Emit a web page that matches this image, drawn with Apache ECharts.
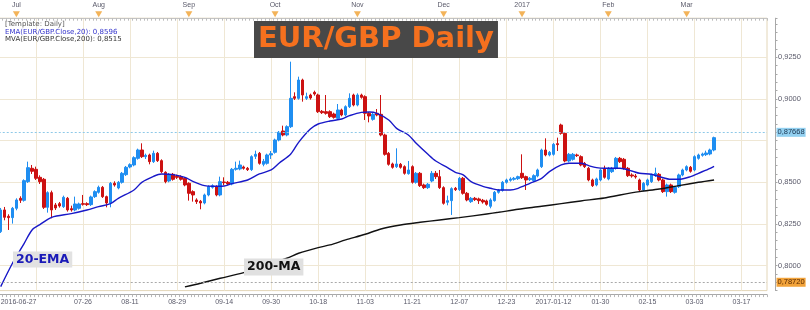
<!DOCTYPE html>
<html><head><meta charset="utf-8">
<script src="https://cdn.jsdelivr.net/npm/echarts@6/dist/echarts.min.js"></script>
<style>html,body{margin:0;padding:0;background:#fff}#c{width:810px;height:310px}</style>
</head><body><div id="c"></div>
<script>
// ---- data (EUR/GBP daily, 2016-06-27 .. 2017-03) ----
const opens = [.8204,.8334,.8296,.8288,.8344,.8404,.8392,.8504,.8584,.8578,
.8530,.8518,.8350,.8438,.8364,.8372,.8354,.8404,.8342,.8334,
.8344,.8372,.8372,.8366,.8414,.8440,.8470,.8414,.8376,.8494,
.8466,.8500,.8546,.8592,.8604,.8644,.8694,.8654,.8664,.8624,
.8674,.8630,.8560,.8508,.8548,.8536,.8534,.8524,.8494,.8444,
.8394,.8386,.8376,.8424,.8470,.8474,.8424,.8502,.8500,.8490,
.8578,.8580,.8592,.8584,.8576,.8656,.8674,.8608,.8614,.8664,
.8680,.8754,.8808,.8784,.8834,.9014,.9004,.9114,.9004,.9024,
.9040,.9024,.8926,.8924,.8924,.8910,.8884,.8934,.8904,.8954,
.9024,.8964,.9024,.9014,.8914,.8878,.8914,.8908,.8784,.8674,
.8610,.8594,.8608,.8594,.8552,.8594,.8500,.8554,.8484,.8468,
.8508,.8554,.8534,.8468,.8380,.8390,.8464,.8456,.8524,.8434,
.8384,.8404,.8400,.8392,.8388,.8356,.8390,.8440,.8452,.8500,
.8512,.8518,.8522,.8554,.8534,.8516,.8510,.8538,.8594,.8694,
.8664,.8668,.8732,.8844,.8794,.8628,.8638,.8664,.8654,.8614,
.8584,.8514,.8484,.8514,.8580,.8520,.8564,.8584,.8644,.8638,
.8584,.8544,.8538,.8514,.8454,.8484,.8504,.8540,.8548,.8514,
.8444,.8484,.8440,.8474,.8544,.8574,.8590,.8574,.8644,.8662,
.8666,.8670,.8694];
const closes = [.8334,.8290,.8288,.8344,.8394,.8392,.8510,.8588,.8566,.8524,
.8504,.8350,.8438,.8334,.8346,.8358,.8410,.8334,.8334,.8370,
.8370,.8368,.8366,.8412,.8444,.8470,.8414,.8376,.8494,.8484,
.8500,.8554,.8590,.8606,.8648,.8694,.8654,.8662,.8624,.8674,
.8630,.8564,.8504,.8548,.8518,.8530,.8518,.8484,.8434,.8424,
.8384,.8376,.8424,.8474,.8480,.8424,.8504,.8498,.8490,.8578,
.8584,.8604,.8584,.8576,.8654,.8668,.8614,.8626,.8664,.8672,
.8754,.8800,.8784,.8834,.9004,.9004,.9114,.9024,.9014,.9006,
.9030,.8924,.8918,.8914,.8894,.8890,.8934,.8904,.8954,.9004,
.8964,.9024,.9010,.8914,.8898,.8908,.8904,.8784,.8668,.8608,
.8590,.8610,.8590,.8554,.8574,.8500,.8554,.8480,.8468,.8488,
.8554,.8534,.8468,.8374,.8390,.8462,.8456,.8524,.8434,.8394,
.8404,.8396,.8390,.8382,.8368,.8394,.8440,.8452,.8500,.8514,
.8520,.8524,.8534,.8528,.8514,.8524,.8540,.8574,.8694,.8664,
.8680,.8728,.8726,.8794,.8628,.8668,.8668,.8660,.8604,.8594,
.8514,.8480,.8520,.8574,.8530,.8584,.8584,.8644,.8624,.8584,
.8540,.8538,.8532,.8454,.8494,.8514,.8544,.8554,.8514,.8444,
.8484,.8444,.8470,.8544,.8574,.8594,.8566,.8654,.8664,.8670,
.8676,.8694,.8768];
const highs = [.8346,.8352,.8308,.8352,.8404,.8416,.8518,.8624,.8604,.8594,
.8542,.8526,.8446,.8450,.8376,.8382,.8420,.8412,.8360,.8414,
.8378,.8424,.8380,.8420,.8452,.8480,.8478,.8420,.8502,.8506,
.8508,.8562,.8598,.8614,.8656,.8702,.8734,.8672,.8672,.8690,
.8682,.8638,.8566,.8556,.8556,.8546,.8542,.8530,.8500,.8452,
.8404,.8394,.8432,.8482,.8488,.8482,.8534,.8530,.8508,.8586,
.8624,.8630,.8600,.8592,.8662,.8690,.8682,.8640,.8672,.8688,
.8762,.8808,.8840,.8842,.9224,.9040,.9134,.9122,.9038,.9032,
.9050,.9032,.8934,.9024,.8932,.8918,.8970,.8942,.8962,.9034,
.9032,.9034,.9032,.9022,.8922,.8916,.8940,.9024,.8792,.8682,
.8618,.8704,.8616,.8602,.8628,.8602,.8562,.8562,.8492,.8496,
.8568,.8568,.8574,.8476,.8420,.8470,.8472,.8532,.8532,.8442,
.8412,.8412,.8408,.8400,.8396,.8404,.8448,.8460,.8508,.8522,
.8530,.8532,.8540,.8668,.8540,.8532,.8548,.8582,.8702,.8764,
.8688,.8736,.8768,.8852,.8800,.8676,.8676,.8672,.8662,.8622,
.8592,.8522,.8528,.8582,.8600,.8592,.8592,.8652,.8652,.8646,
.8592,.8554,.8550,.8522,.8502,.8522,.8552,.8588,.8556,.8522,
.8492,.8492,.8478,.8552,.8582,.8602,.8598,.8662,.8672,.8678,
.8690,.8702,.8774];
const lows = [.8196,.8272,.8214,.8252,.8332,.8376,.8384,.8496,.8550,.8514,
.8490,.8340,.8318,.8284,.8334,.8348,.8346,.8324,.8324,.8326,
.8336,.8360,.8358,.8358,.8406,.8432,.8406,.8350,.8350,.8474,
.8458,.8492,.8538,.8584,.8596,.8636,.8646,.8640,.8608,.8616,
.8622,.8556,.8494,.8500,.8510,.8520,.8510,.8476,.8390,.8384,
.8370,.8338,.8368,.8416,.8462,.8416,.8416,.8482,.8482,.8482,
.8570,.8572,.8576,.8568,.8568,.8640,.8606,.8596,.8606,.8640,
.8672,.8746,.8776,.8776,.8826,.8994,.8996,.8984,.8994,.8996,
.9020,.8916,.8910,.8906,.8886,.8882,.8876,.8896,.8896,.8946,
.8956,.8956,.9002,.8874,.8860,.8870,.8896,.8776,.8660,.8600,
.8582,.8586,.8582,.8546,.8546,.8492,.8492,.8472,.8460,.8460,
.8500,.8520,.8460,.8366,.8362,.8304,.8448,.8448,.8426,.8386,
.8376,.8388,.8370,.8372,.8360,.8344,.8384,.8432,.8444,.8492,
.8504,.8510,.8514,.8520,.8454,.8508,.8502,.8530,.8586,.8656,
.8656,.8660,.8688,.8786,.8620,.8620,.8630,.8652,.8596,.8586,
.8506,.8472,.8476,.8506,.8522,.8512,.8556,.8576,.8616,.8576,
.8532,.8528,.8522,.8446,.8446,.8476,.8496,.8532,.8506,.8436,
.8414,.8436,.8432,.8466,.8536,.8566,.8558,.8566,.8636,.8654,
.8658,.8662,.8686];

// 20-EMA at these candle positions
const emaAt = [0,3,5,6,8,10,13,18,22,25,28,30,34,36,39,41,44,47,49,52,54,57,59,63,66,69,71,74,76,79,81,84,87,89,92,94,96,99,101,104,106,109,111,114,116,118,120,123,125,127,130,132,135,138,140,143,145,148,150,152,154,158,161,163,166,168,171,173,176,178,181,182];
const emaValues = [.7874,.8014,.8094,.8134,.8214,.8246,.8290,.8312,.8334,.8354,.8372,.8404,.8454,.8500,.8536,.8550,.8546,.8530,.8506,.8480,.8476,.8478,.8492,.8514,.8550,.8574,.8614,.8670,.8740,.8820,.8850,.8868,.8880,.8900,.8920,.8922,.8914,.8874,.8824,.8784,.8734,.8668,.8628,.8588,.8560,.8544,.8504,.8476,.8464,.8454,.8454,.8464,.8494,.8524,.8564,.8604,.8614,.8614,.8600,.8588,.8584,.8584,.8568,.8554,.8548,.8534,.8518,.8518,.8534,.8554,.8584,.8596];
// 200-MA
const maAt = [47,51,56,62,73,76,81,84,88,93,97,102,107,112,117,124,127,132,138,143,148,154,158,163,168,173,178,182];
const maValues = [.7872,.7894,.7924,.7958,.8044,.8074,.8108,.8124,.8154,.8188,.8220,.8244,.8260,.8274,.8288,.8310,.8320,.8338,.8356,.8372,.8388,.8406,.8424,.8444,.8460,.8480,.8500,.8514];

const xLabelIdx = [0,21,33,45,57,69,81,93,105,117,129,141,153,165,177,189];
const xLabelText = ['2016-06-27','07-26','08-11','08-29','09-14','09-30','10-18','11-03','11-21','12-07','12-23','2017-01-12','01-30','02-15','03-03','03-17'];
const gridlineIdx = [9,21,33,45,57,69,81,93,105,117,129,141,153,165,177,189];
const monthIdx = [4,25,48,70,91,113,133,155,175];
const monthText = ['Jul','Aug','Sep','Oct','Nov','Dec','2017','Feb','Mar'];
const yLabelVals = [0.800,0.825,0.850,0.900,0.925];
const lastPrice = 0.87668;
const lowLine = 0.7872;
const emaLast = '0,8596';
const maLast = '0,8515';
const slotCount = 196;

// ---- chart ----
const cats = Array.from({length: slotCount}, (_, i) => String(i));
const candles = opens.map((o, i) => [o, closes[i], lows[i], highs[i]]);
const FONT = 'Liberation Sans';
const GRID = '#efe7d4';
const T = 'rgba(0,0,0,0)';
const chart = echarts.init(document.getElementById('c'), null, {renderer: 'canvas', width: 810, height: 310});

const option = {
  animation: false,
  backgroundColor: '#ffffff',
  title: [
    {text: '[Template: Daily]', left: 5, top: 20, padding: 0,
     textStyle: {fontSize: 7, fontFamily: 'DejaVu Sans', color: '#555', fontWeight: 'normal', lineHeight: 8}},
    {text: 'EMA(EUR/GBP.Close,20): ' + emaLast, left: 5, top: 27.7, padding: 0,
     textStyle: {fontSize: 7, fontFamily: 'DejaVu Sans', color: '#3434cc', fontWeight: 'normal', lineHeight: 8}},
    {text: 'MVA(EUR/GBP.Close,200): ' + maLast, left: 5, top: 35.3, padding: 0,
     textStyle: {fontSize: 7, fontFamily: 'DejaVu Sans', color: '#333', fontWeight: 'normal', lineHeight: 8}},
    {text: 'EUR/GBP Daily', left: 254, top: 21, padding: [4, 4, 4, 4], backgroundColor: '#484848',
     textStyle: {fontSize: 29, fontFamily: 'DejaVu Sans', fontWeight: 'bold', color: '#f5701e', lineHeight: 29}},
    {text: '20-EMA', left: 13, top: 252, padding: [2, 3, 1, 3], backgroundColor: '#e2e2e2',
     textStyle: {fontSize: 12.5, fontFamily: 'DejaVu Sans', fontWeight: 'bold', color: '#1a1ab8', lineHeight: 12}},
    {text: '200-MA', left: 244, top: 259, padding: [2, 3, 2, 3], backgroundColor: '#e0e0e0',
     textStyle: {fontSize: 12.5, fontFamily: 'DejaVu Sans', fontWeight: 'bold', color: '#111', lineHeight: 12}}
  ],
  grid: [
    {left: -1.26, right: 43, top: 18.2, bottom: 19.4, show: true, borderColor: '#e3d6b8', borderWidth: 1,
     backgroundColor: T, containLabel: false, outerBoundsMode: 'none'},
    {left: -1.26, right: 43, top: 12, height: 6.2, show: false, containLabel: false, outerBoundsMode: 'none'}
  ],
  xAxis: [
    {type: 'category', gridIndex: 0, data: cats, boundaryGap: true, position: 'bottom', offset: 4,
     axisLine: {show: true, lineStyle: {color: '#a8a8a8'}},
     axisTick: {show: true, interval: 0, length: 2.5, lineStyle: {color: '#b8b8b8'}},
     axisLabel: {interval: (i) => xLabelIdx.includes(i),
       formatter: (v, i) => { const k = xLabelIdx.indexOf(Number(v)); return k >= 0 ? xLabelText[k] : ''; },
       fontSize: 7, fontFamily: FONT, color: '#5a5a6a', margin: 4, alignMinLabel: 'left'},
     splitLine: {show: true, interval: (i) => gridlineIdx.includes(i), alignWithLabel: true,
       lineStyle: {color: GRID, width: 1}}},
    {type: 'category', gridIndex: 1, data: cats, boundaryGap: true, position: 'top',
     axisLine: {show: true, lineStyle: {color: '#c4c4c4'}},
     axisTick: {show: true, interval: 0, length: 2.5, inside: true, lineStyle: {color: '#bdbdbd'}},
     axisLabel: {interval: (i) => monthIdx.includes(i),
       formatter: (v) => { const k = monthIdx.indexOf(Number(v)); return k >= 0 ? monthText[k] : ''; },
       fontSize: 7, fontFamily: FONT, color: '#5a5a6a', margin: 3},
     splitLine: {show: false}}
  ],
  yAxis: [
    {type: 'value', gridIndex: 0, position: 'right', offset: 8, min: 0.785, max: 0.9485, interval: 0.005,
     axisLine: {show: true, lineStyle: {color: '#a8a8a8'}},
     axisTick: {show: true, length: 2.5, lineStyle: {color: '#a8a8a8'}},
     axisLabel: {fontSize: 7.5, fontFamily: FONT, color: '#5a5a6a', margin: 3,
       formatter: (v) => yLabelVals.some(t => Math.abs(t - v) < 1e-6) ? v.toFixed(4).replace('.', ',') : ''},
     splitLine: {show: true, lineStyle: {color: [T, T, T, GRID, T], width: 1}}},
    {type: 'value', gridIndex: 1, min: 0, max: 1, show: false}
  ],
  series: [
    {type: 'candlestick', name: 'EUR/GBP', xAxisIndex: 0, yAxisIndex: 0, data: candles,
     barWidth: 3, z: 2,
     itemStyle: {color: '#1f8ef1', color0: '#cc1111', borderColor: '#1f8ef1', borderColor0: '#cc1111', borderWidth: 1},
     markLine: {symbol: ['none', 'none'], silent: true, animation: false,
       data: [
         {yAxis: lastPrice, lineStyle: {color: '#8ec9e8', type: [2, 2], width: 1},
          label: {show: true, position: 'end', distance: 9.5, formatter: lastPrice.toFixed(5).replace('.', ','),
            backgroundColor: '#92d0f0', color: '#1b3550', padding: [1, 1, 0, 1], fontSize: 7.5, fontFamily: FONT}},
         {yAxis: lowLine, lineStyle: {color: '#a9a9a9', type: [2, 2], width: 1},
          label: {show: true, position: 'end', distance: 9.5, formatter: lowLine.toFixed(5).replace('.', ','),
            backgroundColor: '#f2a33a', color: '#5a2a00', padding: [1, 1, 0, 1], fontSize: 7.5, fontFamily: FONT}}
       ]}},
    {type: 'line', name: 'EMA20', xAxisIndex: 0, yAxisIndex: 0, z: 4, showSymbol: false, symbol: 'none', smooth: 0.3,
     data: emaAt.map((x, i) => [x, emaValues[i]]), lineStyle: {color: '#1818c8', width: 1.4}},
    {type: 'line', name: 'MA200', xAxisIndex: 0, yAxisIndex: 0, z: 4, showSymbol: false, symbol: 'none', smooth: 0.3,
     data: maAt.map((x, i) => [x, maValues[i]]), lineStyle: {color: '#111111', width: 1.4}},
    {type: 'scatter', name: 'months', xAxisIndex: 1, yAxisIndex: 1, clip: false, silent: true,
     symbol: 'triangle', symbolRotate: 180, symbolSize: [7, 6], itemStyle: {color: '#f0a030'},
     data: monthIdx.map(i => [i, 0.65])}
  ]
};
chart.setOption(option);
</script>
</body></html>
